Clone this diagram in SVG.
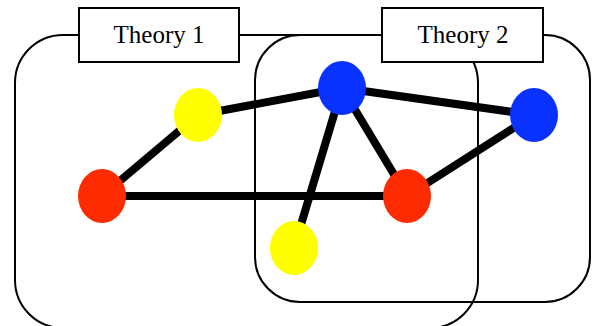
<svg xmlns="http://www.w3.org/2000/svg" width="592" height="326" viewBox="0 0 592 326">
<style>
.region{fill:none;stroke:#000;stroke-width:2}
.label{fill:#fff;stroke:#000;stroke-width:2}
.lt{font-size:25px;fill:#000;text-anchor:middle}
.edge{stroke:#000;stroke-width:8;fill:none}
.y{fill:#FFFF00}.b{fill:#0A32FF}.r{fill:#FF2B00}
</style>
<rect width="592" height="326" fill="#fff"/>
<g id="theory1">
<rect class="region" x="15" y="35" width="463" height="293" rx="48" ry="48"/>
</g>
<g id="theory2">
<rect class="region" x="255" y="35" width="335" height="267" rx="45" ry="45"/>
</g>
<g id="label1">
<rect class="label" x="79" y="8" width="160" height="54"/>
<text class="lt" x="159" y="43" font-family="'Liberation Serif', 'DejaVu Serif', serif">Theory 1</text>
</g>
<g id="label2">
<rect class="label" x="382" y="8" width="161" height="54"/>
<text class="lt" x="463" y="43" font-family="'Liberation Serif', 'DejaVu Serif', serif">Theory 2</text>
</g>
<g id="connectors">
<line class="edge" x1="198" y1="115" x2="342" y2="88"/>
<line class="edge" x1="198" y1="115" x2="102" y2="196"/>
<line class="edge" x1="102" y1="196" x2="407" y2="196"/>
<line class="edge" x1="342" y1="88" x2="407" y2="196"/>
<line class="edge" x1="342" y1="88" x2="294" y2="248"/>
<line class="edge" x1="342" y1="88" x2="534" y2="115"/>
<line class="edge" x1="534" y1="115" x2="407" y2="196"/>
</g>
<g id="yellow1"><ellipse class="y" cx="198" cy="115" rx="24" ry="27"/></g>
<g id="blue1"><ellipse class="b" cx="342" cy="88" rx="24" ry="27"/></g>
<g id="blue2"><ellipse class="b" cx="534" cy="115" rx="24" ry="27"/></g>
<g id="red1"><ellipse class="r" cx="102" cy="196" rx="24" ry="27"/></g>
<g id="red2"><ellipse class="r" cx="407" cy="196" rx="24" ry="27"/></g>
<g id="yellow2"><ellipse class="y" cx="294" cy="248" rx="24" ry="27"/></g>
</svg>
